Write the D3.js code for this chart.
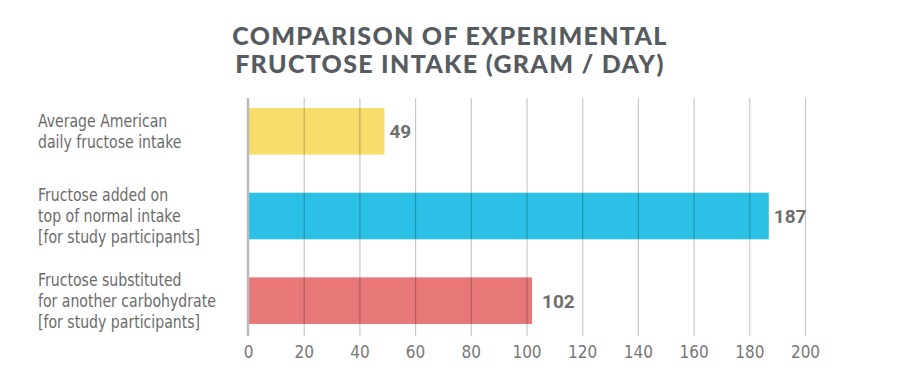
<!DOCTYPE html>
<html><head><meta charset="utf-8">
<script src="https://cdn.jsdelivr.net/npm/d3@7"></script>
<style>
body{margin:0;background:#fff;}
svg{display:block;}
</style></head>
<body>
<svg id="chart" width="901" height="391"></svg>
<script>
const titleLines = ["COMPARISON OF EXPERIMENTAL", "FRUCTOSE INTAKE (GRAM / DAY)"];
const categories = [
  ["Average American", "daily fructose intake"],
  ["Fructose added on", "top of normal intake", "[for study participants]"],
  ["Fructose substituted", "for another carbohydrate", "[for study participants]"]
];
const values = [49, 187, 102];
const colors = ["#f9dd6a", "#2bc1e6", "#e77877"];
const tickValues = [0, 20, 40, 60, 80, 100, 120, 140, 160, 180, 200];

const svg = d3.select("#chart");
const narrow = "'DejaVu Sans Condensed', 'DejaVu Sans', sans-serif";

svg.append("g").selectAll("text").data(titleLines).join("text")
  .attr("x", 450).attr("y", (d, i) => 45 + i * 28)
  .attr("text-anchor", "middle")
  .attr("font-family", "Lato, sans-serif").attr("font-weight", 900)
  .attr("font-size", 25).attr("letter-spacing", 1.3).attr("fill", "#555b5e")
  .text(d => d);

const x = d3.scaleLinear().domain([0, 200]).range([248, 805]);
const y = d3.scaleBand().domain(d3.range(values.length)).range([89, 343]).paddingInner(0.45).paddingOuter(0.225);

// bars
svg.append("g").selectAll("rect").data(values).join("rect")
  .attr("x", x(0)).attr("y", (d, i) => y(i))
  .attr("width", d => x(d) - x(0)).attr("height", y.bandwidth())
  .attr("fill", (d, i) => colors[i]);

// grid lines over bars
const axis = d3.axisBottom(x).tickValues(tickValues).tickSize(-238).tickPadding(10).tickFormat(d3.format("d"));
const ga = svg.append("g").attr("transform", "translate(0,336)").call(axis);
ga.select(".domain").remove();
ga.selectAll(".tick line").attr("stroke", "#000").attr("stroke-opacity", 0.22).attr("stroke-width", 1.2);
ga.selectAll(".tick text").attr("font-family", narrow).attr("font-size", 17).attr("fill", "#777");
ga.selectAll(".tick").filter(d => d === 0).select("line").remove();

// zero axis line
svg.append("line").attr("x1", x(0)).attr("x2", x(0)).attr("y1", 98).attr("y2", 336)
  .attr("stroke", "#bbb").attr("stroke-width", 2.5);

// value labels
svg.append("g").selectAll("text").data(values).join("text")
  .attr("x", d => x(d) + (d === 102 ? 10 : 5))
  .attr("y", (d, i) => y(i) + y.bandwidth() / 2 + 7)
  .attr("font-family", "Roboto, sans-serif").attr("font-weight", 700)
  .attr("font-size", 19).attr("fill", "#6f6f6f")
  .text(d => d);

// category labels
const gl = svg.append("g").attr("transform", "translate(38,0) scale(0.87,1)");
categories.forEach((lines, i) => {
  const t = gl.append("text").attr("font-family", narrow).attr("font-size", 18).attr("fill", "#6b6b6b");
  const n = lines.length;
  const cy = y(i) + y.bandwidth() / 2;
  lines.forEach((l, j) => {
    t.append("tspan").attr("x", 0).attr("y", cy + 6 + (j - (n - 1) / 2) * 21).text(l);
  });
});
</script>
</body></html>
